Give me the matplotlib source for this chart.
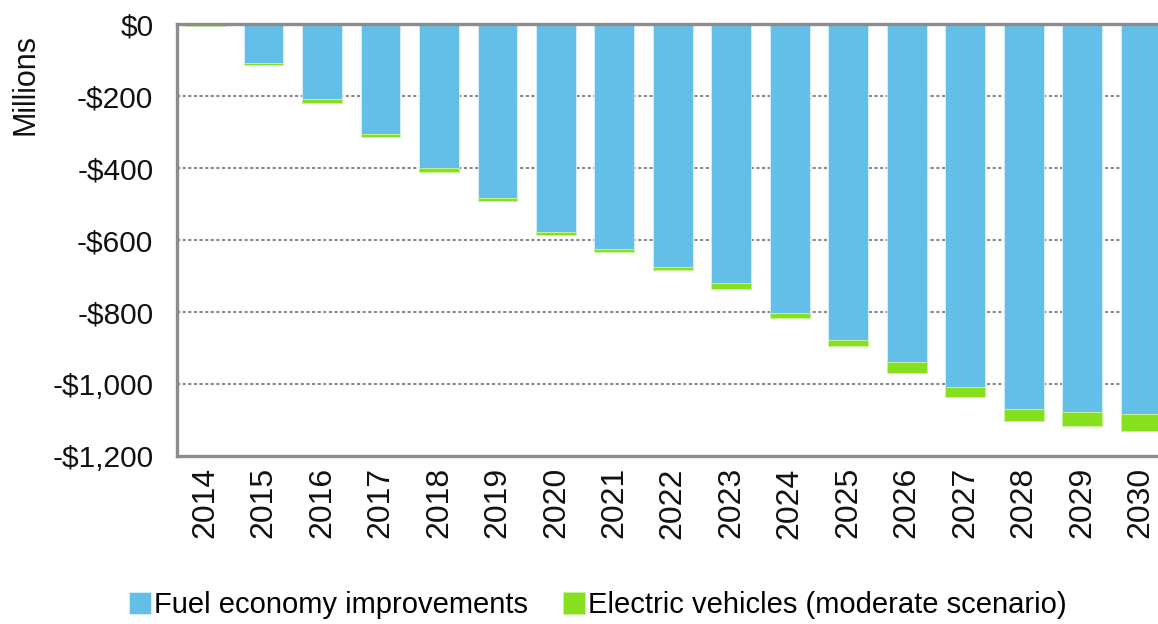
import numpy as np
import matplotlib.pyplot as plt
from matplotlib.ticker import FuncFormatter

plt.rcParams['font.family'] = ['Liberation Sans', 'DejaVu Sans']

years = [str(y) for y in range(2014, 2031)]
fuel_economy = [-2, -107, -209, -306, -401, -484, -579, -626, -674,
                -720, -802, -878, -940, -1008, -1070, -1077, -1083]
electric_vehicles = [-3, -8, -9, -8, -9, -8, -7, -8, -9,
                     -16, -14, -16, -28, -27, -33, -41, -48]

blue = '#63bfe8'
green = '#86e01e'

fig = plt.figure(figsize=(11.58, 6.24), dpi=100)
ax = fig.add_axes([0.1528, 0.2692, 0.8575, 0.6923])

x = np.arange(len(years))
w = 0.68
ax.bar(x, fuel_economy, w, color=blue, edgecolor='#d8f0fb', linewidth=0.6,
       label='Fuel economy improvements', zorder=2)
ax.bar(x, electric_vehicles, w, bottom=fuel_economy, color=green,
       edgecolor='#c8f29a', linewidth=0.6,
       label='Electric vehicles (moderate scenario)', zorder=2)

ax.set_xlim(-0.48, len(years) - 0.5)
ax.set_ylim(-1200, 0)
ax.set_yticks(np.arange(-1200, 1, 200))

def money(v, pos):
    v = int(round(v))
    if v == 0:
        return '$0'
    return '-${:,}'.format(abs(v))

ax.yaxis.set_major_formatter(FuncFormatter(money))
ax.set_xticks(x)
ax.set_xticklabels(years, rotation=90)
ax.tick_params(axis='y', length=0, labelsize=21.5, pad=17, labelcolor='#111111')
ax.tick_params(axis='x', length=0, labelsize=23, pad=8, labelcolor='#111111')

# dotted gridlines
for gy in range(-1000, 0, 200):
    ax.axhline(gy, color='#8a8a8a', linestyle=(0, (1.5, 1.2)), linewidth=1.5, zorder=1)

for side in ['left', 'top', 'bottom']:
    ax.spines[side].set_color('#8c8c8c')
    ax.spines[side].set_linewidth(2.4)
ax.spines['right'].set_visible(False)

fig.text(0.022, 0.865, 'Millions', rotation=90, ha='center', va='center',
         fontsize=22, color='#111111')

fig.legend(loc='center', bbox_to_anchor=(0.516, 0.03), ncol=2, frameon=False,
           fontsize=21, handlelength=0.75, handleheight=0.75, handletextpad=0.1,
           columnspacing=1.2)

fig.savefig('out.png', dpi=100)
